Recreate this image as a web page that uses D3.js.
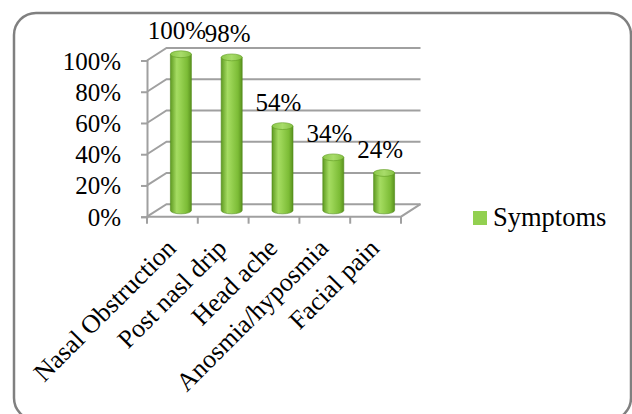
<!DOCTYPE html>
<html>
<head>
<meta charset="utf-8">
<script src="https://cdn.jsdelivr.net/npm/d3@7"></script>
<style>
  html, body { margin: 0; padding: 0; background: #fff; }
  svg { display: block; }
  text { font-family: "Liberation Serif", "Times New Roman", serif; fill: #000; }
</style>
</head>
<body>
<svg id="chart" width="632" height="414"></svg>
<script>
// Symptom frequencies
const categories = ["Nasal Obstruction", "Post nasl drip", "Head ache", "Anosmia/hyposmia", "Facial pain"];
const values = [1.00, 0.98, 0.54, 0.34, 0.24];
const yTicks = [0, 0.2, 0.4, 0.6, 0.8, 1.0];
const seriesName = "Symptoms";

const svg = d3.select("#chart");

// outer rounded frame
svg.append("rect")
  .attr("x", 14).attr("y", 13).attr("width", 617).attr("height", 407)
  .attr("rx", 22).attr("ry", 22)
  .attr("fill", "#fff").attr("stroke", "#808080").attr("stroke-width", 2.5);

// front plane scales, plus a depth offset for the back wall
const x = d3.scaleBand().domain(categories).range([147, 401]);
const y = d3.scaleLinear().domain([0, 1]).range([216.7, 60.5]);
const depth = { dx: 19.5, dy: -12.5 };
const fmt = d3.format(".0%");

const grid = svg.append("g").attr("stroke", "#a0a0a0").attr("stroke-width", 2).attr("fill", "none");

// back wall gridlines + side wall diagonals
yTicks.forEach(t => {
  const yf = y(t), yb = y(t) + depth.dy;
  grid.append("path")
    .attr("d", `M${x.range()[0]},${yf}L${x.range()[0] + depth.dx},${yb}L${x.range()[1] + depth.dx},${yb}`);
});
// floor front edge and right edge
grid.append("path")
  .attr("d", `M${x.range()[0]},${y(0)}L${x.range()[1]},${y(0)}L${x.range()[1] + depth.dx},${y(0) + depth.dy}`);

// front y axis
const yAxis = d3.axisLeft(y).tickValues(yTicks).tickFormat(fmt).tickSize(6).tickPadding(20);
const gy = svg.append("g").attr("transform", `translate(${x.range()[0]},0)`).call(yAxis);
gy.select(".domain").attr("stroke", "#a0a0a0").attr("stroke-width", 2);
gy.selectAll(".tick line").attr("stroke", "#a0a0a0").attr("stroke-width", 2);
gy.selectAll(".tick text")
  .style("font-family", '"Liberation Serif", "Times New Roman", serif')
  .style("font-size", "25px").attr("fill", "#000").attr("dy", "0.34em");

// x axis ticks at category boundaries
const bounds = categories.map(c => x(c)).concat([x.range()[1]]);
svg.append("g").selectAll("line").data(bounds).join("line")
  .attr("x1", d => d).attr("x2", d => d)
  .attr("y1", y(0)).attr("y2", y(0) + 7)
  .attr("stroke", "#a0a0a0").attr("stroke-width", 2);

// category labels, rotated
svg.append("g").selectAll("text").data(categories).join("text")
  .attr("transform", d => `translate(${x(d) + x.bandwidth() / 2 + 5},${y(0) + 33}) rotate(-45)`)
  .attr("text-anchor", "end")
  .style("font-size", "26px")
  .text(d => d);

// cylinder bars
const defs = svg.append("defs");
const grad = defs.append("linearGradient").attr("id", "cyl").attr("x1", 0).attr("x2", 1).attr("y1", 0).attr("y2", 0);
[[0, "#5f9a22"], [0.3, "#a5dc62"], [0.45, "#9ad455"], [0.8, "#7cbc36"], [1, "#5a921e"]]
  .forEach(([o, c]) => grad.append("stop").attr("offset", o).attr("stop-color", c));
const gradTop = defs.append("linearGradient").attr("id", "cylTop").attr("x1", 0).attr("x2", 1);
[[0, "#8cc84a"], [0.5, "#a8dc6a"], [1, "#86c244"]]
  .forEach(([o, c]) => gradTop.append("stop").attr("offset", o).attr("stop-color", c));

const barW = 21, ry = 3.4;
const mid = depth.dy / 2;
const bars = svg.append("g").selectAll("g").data(categories.map((c, i) => ({ c, v: values[i] }))).join("g");
bars.each(function(d) {
  const g = d3.select(this);
  const cx = x(d.c) + x.bandwidth() / 2 + 8.5;
  const yb = y(0) + mid, yt = y(d.v) + mid;
  const l = cx - barW / 2, r = cx + barW / 2;
  g.append("path")
    .attr("d", `M${l},${yt}L${l},${yb}A${barW / 2},${ry} 0 0 0 ${r},${yb}L${r},${yt}Z`)
    .attr("fill", "url(#cyl)").attr("stroke", "#4f8a1a").attr("stroke-width", 0.6);
  g.append("ellipse")
    .attr("cx", cx).attr("cy", yt).attr("rx", barW / 2).attr("ry", ry)
    .attr("fill", "url(#cylTop)").attr("stroke", "#5f9a22").attr("stroke-width", 0.6);
});

// value labels
svg.append("g").selectAll("text").data(categories.map((c, i) => ({ c, v: values[i] }))).join("text")
  .attr("x", d => x(d.c) + x.bandwidth() / 2 + 4.5)
  .attr("y", d => y(d.v) + mid - 15)
  .attr("text-anchor", "middle")
  .style("font-size", "25px")
  .text(d => fmt(d.v));

// legend
const lg = svg.append("g").attr("transform", "translate(473,211)");
lg.append("rect").attr("width", 14).attr("height", 14).attr("fill", "#92d050");
lg.append("text").attr("x", 20).attr("y", 14.5).style("font-size", "26.5px").text(seriesName);
</script>
</body>
</html>
